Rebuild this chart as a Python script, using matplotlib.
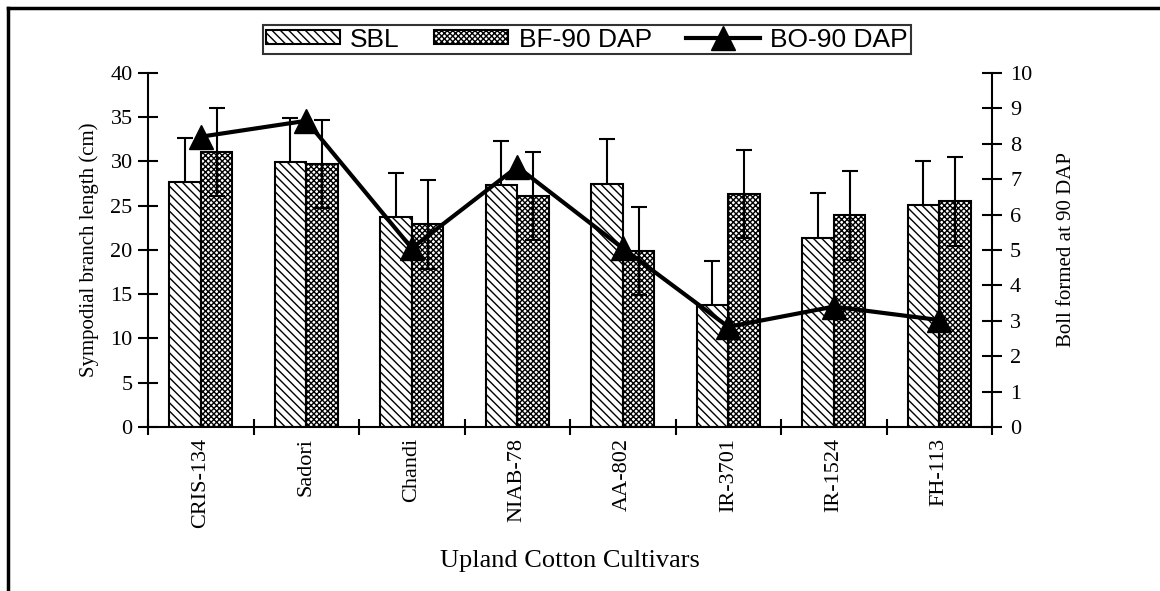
import numpy as np
import matplotlib
matplotlib.use('Agg')
import matplotlib.pyplot as plt
from matplotlib.lines import Line2D

# cultivars and values
cultivars = ['CRIS-134', 'Sadori', 'Chandi', 'NIAB-78', 'AA-802', 'IR-3701', 'IR-1524', 'FH-113']
sbl = [27.7, 29.9, 23.7, 27.3, 27.5, 13.8, 21.4, 25.1]
sbl_err = [5.0, 5.0, 5.0, 5.0, 5.0, 5.0, 5.0, 5.0]
bf90 = [31.1, 29.7, 22.9, 26.1, 19.9, 26.3, 23.9, 25.5]
bf90_err = [5.0, 5.0, 5.0, 5.0, 5.0, 5.0, 5.0, 5.0]
bo90 = [8.2, 8.65, 5.05, 7.35, 5.05, 2.83, 3.4, 3.02]

plt.rcParams['font.family'] = 'Liberation Serif'
plt.rcParams['hatch.linewidth'] = 1.0

fig = plt.figure(figsize=(11.6, 5.91), dpi=100)
ax = fig.add_axes([0.1276, 0.2775, 0.7276, 0.599])
ax2 = ax.twinx()

x = np.arange(len(cultivars))
w = 0.3

# SBL error bars go behind the bars so only the upper half shows
ax.errorbar(x - w / 2, sbl, yerr=sbl_err, fmt='none', ecolor='black',
            elinewidth=1.5, capsize=6, capthick=1.5, zorder=1)
b1 = ax.bar(x - w / 2, sbl, w, color='white', edgecolor='black', hatch='\\\\\\\\',
            linewidth=1.5, zorder=2, label='SBL')
b2 = ax.bar(x + w / 2, bf90, w, color='white', edgecolor='black', hatch='xxxxxx',
            linewidth=1.5, zorder=2, label='BF-90 DAP')
ax.errorbar(x + w / 2, bf90, yerr=bf90_err, fmt='none', ecolor='black',
            elinewidth=1.5, capsize=6, capthick=1.5, zorder=3)

l1, = ax2.plot(x, bo90, color='black', linewidth=3, marker='^', markersize=17,
               label='BO-90 DAP')

ax.set_xlim(-0.5, len(cultivars) - 0.5)
ax.set_ylim(0, 40)
ax2.set_ylim(0, 10)
ax.set_yticks(np.arange(0, 41, 5))
ax2.set_yticks(np.arange(0, 11, 1))

# ticks between categories, labels in the middle
ax.set_xticks(np.arange(-0.5, len(cultivars), 1))
ax.set_xticklabels([])
ax.set_xticks(x, minor=True)
ax.set_xticklabels(cultivars, minor=True, rotation=90, fontsize=16)
ax.tick_params(axis='x', which='minor', length=0, pad=8)
ax.tick_params(axis='x', which='major', direction='inout', length=12, width=1.5)
ax.tick_params(axis='y', direction='inout', length=14, width=1.5, labelsize=16, pad=4)
ax2.tick_params(axis='y', direction='inout', length=14, width=1.5, labelsize=16, pad=6)

for a in (ax, ax2):
    a.spines['top'].set_visible(False)
    for s in ('left', 'right', 'bottom'):
        a.spines[s].set_linewidth(1.5)
ax.spines['right'].set_visible(False)
ax2.spines['left'].set_visible(False)
ax2.spines['bottom'].set_visible(False)

ax.set_ylabel('Sympodial branch length (cm)', fontsize=15, labelpad=8)
ax2.set_ylabel('Boll formed at 90 DAP', fontsize=15, labelpad=18)
ax.set_xlabel('Upland Cotton Cultivars', fontsize=19, labelpad=16)

leg = fig.legend(handles=[b1, b2, l1], loc='center', bbox_to_anchor=(0.506, 0.933),
                 ncol=3, frameon=True, fancybox=False, edgecolor='black',
                 prop={'family': 'Liberation Sans', 'size': 19},
                 handlelength=2.8, handleheight=0.45, columnspacing=1.3,
                 handletextpad=0.4, borderpad=0.1, borderaxespad=0)
leg.get_frame().set_linewidth(1.5)

# outer frame: top and left edges only
fig.add_artist(Line2D([0.007, 1.0], [0.986, 0.986], color='black', linewidth=2.5,
                      transform=fig.transFigure))
fig.add_artist(Line2D([0.007, 0.007], [0.0, 0.986], color='black', linewidth=2.5,
                      transform=fig.transFigure))

fig.savefig('out.png', dpi=100)
